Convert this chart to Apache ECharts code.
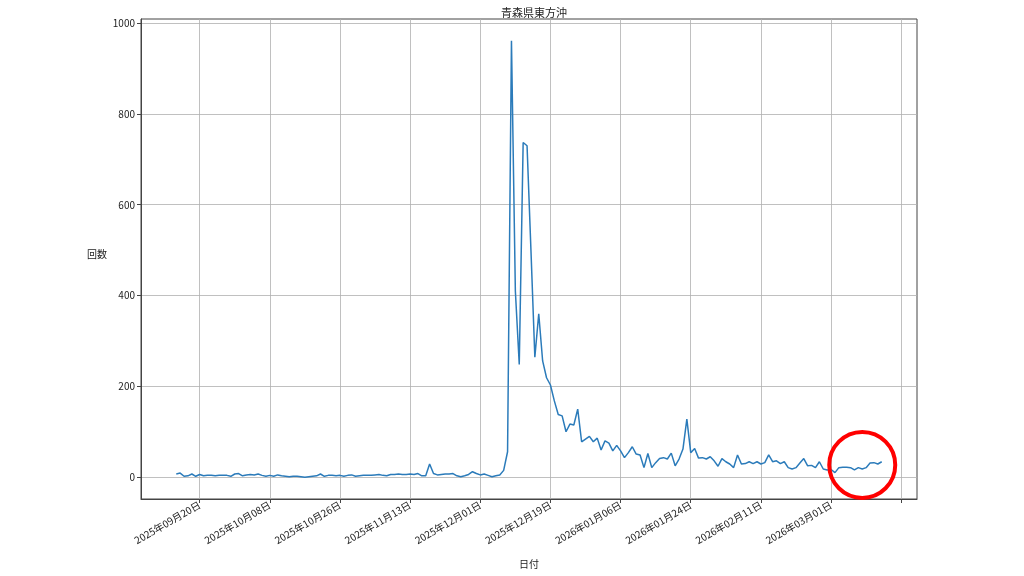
<!DOCTYPE html>
<html>
<head>
<meta charset="utf-8">
<script src="https://cdn.jsdelivr.net/npm/echarts@6/dist/echarts.min.js"></script>
<style>
html,body{margin:0;padding:0;background:#fff;}
#main{width:1024px;height:576px;}
</style>
</head>
<body>
<div id="main"></div>
<script>
// ---- data ----
const titleText = '青森県東方沖';
const yName = '回数';
const xName = '日付';
const startDate = [2025, 8, 14]; // 2025-09-14 (first daily value)
const counts = [
  7, 9, 2, 3, 7, 2, 6, 3, 4, 4,
  3, 4, 4, 4, 2, 7, 8, 3, 5, 6,
  5, 7, 4, 2, 4, 2, 5, 3, 2, 1,
  2, 2, 1, 0, 1, 2, 3, 7, 2, 4,
  4, 3, 4, 2, 4, 5, 2, 3, 4, 4,
  4, 5, 6, 4, 3, 6, 6, 7, 6, 6,
  7, 6, 8, 3, 3, 29, 8, 5, 6, 7,
  7, 8, 3, 1, 3, 6, 12, 8, 5, 7,
  4, 1, 3, 5, 15, 56, 961, 410, 248, 737,
  730, 500, 264, 360, 256, 219, 203, 168, 138, 135,
  100, 117, 115, 150, 78, 84, 90, 78, 86, 60,
  80, 75, 58, 70, 58, 43, 54, 67, 51, 49,
  21, 52, 21, 32, 41, 43, 40, 53, 25, 40,
  62, 128, 54, 63, 42, 43, 40, 45, 36, 24,
  41, 34, 29, 21, 49, 29, 30, 34, 30, 34,
  29, 32, 49, 34, 36, 30, 34, 21, 18, 21,
  31, 41, 25, 26, 21, 34, 18, 16, 17, 10,
  21, 22, 22, 21, 16, 21, 18, 21, 31, 32,
  29, 34
];
const xTickLabels = ['2025-09-20','2025-10-08','2025-10-26','2025-11-13','2025-12-01',
  '2025-12-19','2026-01-06','2026-01-24','2026-02-11','2026-03-01'];
const xExtraTicks = ['2026-03-19'];
const yTicks = [0, 200, 400, 600, 800, 1000];
const highlight = { date: '2026-03-09', value: 27, radius: 33 };

// ---- helpers ----
const DAY = 86400000;
function ts(s){ const p = s.split('-').map(Number); return Date.UTC(p[0], p[1]-1, p[2]); }
function fmt(v){
  const d = new Date(v);
  const p = n => (n < 10 ? '0' : '') + n;
  return d.getUTCFullYear() + '年' + p(d.getUTCMonth()+1) + '月' + p(d.getUTCDate()) + '日';
}
const t0 = Date.UTC(startDate[0], startDate[1], startDate[2]);
const seriesData = counts.map((v, i) => [t0 + i * DAY, v]);
const tFirst = seriesData[0][0], tLast = seriesData[seriesData.length-1][0];
const xPad = (tLast - tFirst) * 0.05;
const yMaxData = Math.max.apply(null, counts), yMinData = Math.min.apply(null, counts);
const yPad = (yMaxData - yMinData) * 0.05;
const labelTicks = xTickLabels.map(ts);
const allTicks = labelTicks.concat(xExtraTicks.map(ts));

const FONT = "'Noto Sans CJK JP', 'DejaVu Sans', sans-serif";
const chart = echarts.init(document.getElementById('main'), null, {renderer:'canvas'});
const option = {
  animation: false,
  backgroundColor: '#ffffff',
  title: {
    text: titleText, left: 529, top: 2, textAlign: 'center',
    textStyle: { fontFamily: FONT, fontSize: 11, fontWeight: 'normal', color: '#222' }
  },
  grid: { left: 141, right: 107, top: 19, bottom: 77, show: true, borderColor: '#444', borderWidth: 1, backgroundColor: 'transparent' },
  xAxis: {
    type: 'value', scale: true,
    min: tFirst - xPad, max: tLast + xPad,
    name: xName, nameLocation: 'middle', nameGap: 60,
    nameTextStyle: { fontFamily: FONT, fontSize: 10, color: '#222' },
    axisLine: { show: true, onZero: false, lineStyle: { color: '#444', width: 1 } },
    axisTick: { show: true, customValues: allTicks, length: 4, lineStyle: { color: '#444' } },
    axisLabel: {
      customValues: labelTicks, rotate: 30, margin: 5,
      fontFamily: FONT, fontSize: 10, color: '#222',
      formatter: function(v){ return fmt(v); }
    },
    splitLine: { show: true, lineStyle: { color: '#b0b0b0', width: 0.8 } }
  },
  yAxis: {
    type: 'value',
    min: yMinData - yPad, max: yMaxData + yPad,
    name: yName, nameLocation: 'middle', nameRotate: 0, nameGap: 28,
    nameTextStyle: { fontFamily: FONT, fontSize: 10, color: '#222', verticalAlign: 'bottom' },
    axisLine: { show: true, lineStyle: { color: '#444', width: 1 } },
    axisTick: { show: true, customValues: yTicks, length: 4, lineStyle: { color: '#444' } },
    axisLabel: { customValues: yTicks, margin: 6, fontFamily: FONT, fontSize: 10, color: '#222',
      formatter: function(v){ return String(v); } },
    splitLine: { show: true, lineStyle: { color: '#b0b0b0', width: 0.8 } }
  },
  series: [{
    type: 'line', data: seriesData, showSymbol: false, symbol: 'none',
    lineStyle: { color: '#2b7bba', width: 1.5 }, itemStyle: { color: '#2b7bba' }
  }]
};
chart.setOption(option);
const c = chart.convertToPixel({gridIndex: 0}, [ts(highlight.date), highlight.value]);
chart.setOption({
  graphic: [{
    type: 'circle', shape: { cx: c[0], cy: c[1], r: highlight.radius },
    style: { fill: 'none', stroke: '#ff0000', lineWidth: 4 }, z: 100
  }]
});
</script>
</body>
</html>
